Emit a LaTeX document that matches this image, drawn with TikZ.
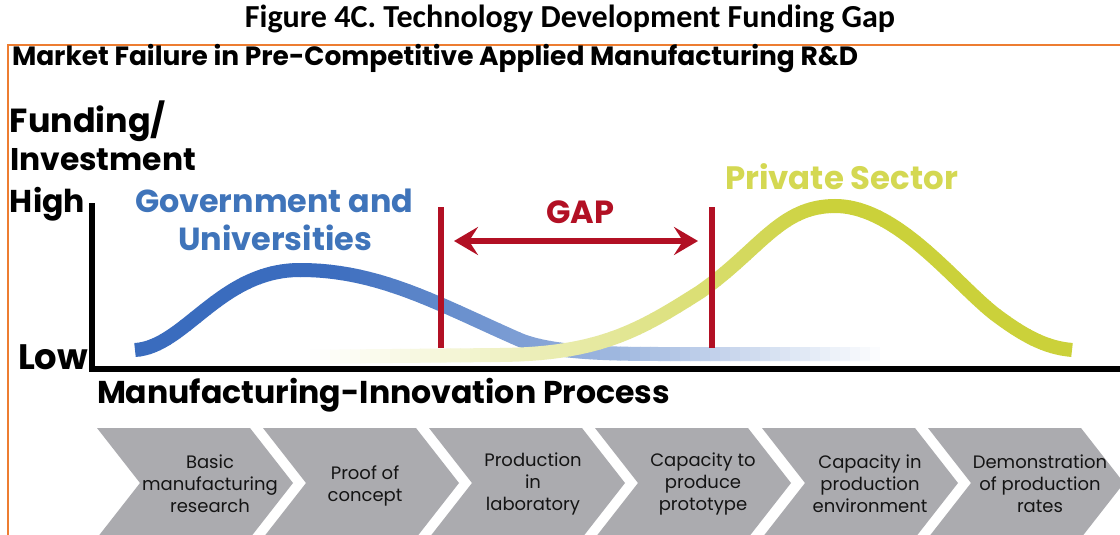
\documentclass[tikz,border=0pt]{standalone}
\usepackage{fontspec}
\usepackage{graphicx}
\setmainfont{Poppins}
\newfontfamily\calib{Carlito}
\usetikzlibrary{arrows.meta}
\definecolor{orng}{RGB}{237,125,49}
\definecolor{govblue}{RGB}{58,108,190}
\definecolor{govtxt}{RGB}{63,116,186}
\definecolor{privyel}{RGB}{203,209,58}
\definecolor{privtxt}{RGB}{212,216,82}
\definecolor{gapred}{RGB}{178,16,36}
\definecolor{chev}{RGB}{171,171,175}
\newcommand\fitw[2]{\resizebox{#1pt}{!}{#2}}
\tikzset{
  lbl/.style={inner sep=0pt, outer sep=0pt, anchor=base west, font=\bfseries},
  curve/.style={line width=14pt, line cap=butt},
  redbar/.style={draw=gapred, line width=6.5pt},
  axisline/.style={line width=6pt, draw=black},
  chevron/.style={fill=chev},
  chevtxt/.style={align=center, font=\fontsize{18}{22}\selectfont, text=black!92, inner sep=0pt},
  gaptip/.tip={Stealth[length=24pt, width=28pt, inset=9pt]}
}
\def\bluepath{(135,350) .. controls (185,347) and (220,270) .. (300,270) .. controls (380,270) and (440,305) .. (520,340) .. controls (550,352) and (600,354) .. (660,354) -- (885,354)}
\def\yelpath{(285,357) -- (500,355) .. controls (600,354) and (640,330) .. (700,292) .. controls (760,250) and (780,206) .. (835,206) .. controls (900,206) and (960,290) .. (1000,318) .. controls (1030,340) and (1050,348) .. (1072,350)}
\begin{document}
\begin{tikzpicture}[x=1pt,y=-1pt]
\useasboundingbox (0,0) rectangle (1120,535);
\clip (0,0) rectangle (1120,535);
\fill[white] (0,0) rectangle (1120,535);

% title and frame
\node[inner sep=0pt, anchor=base] (title) at (570,28) {\fitw{650}{\calib\bfseries Figure 4C. Technology Development Funding Gap}};
\coordinate (fr1) at (1120,45);
\coordinate (fr2) at (8,45);
\coordinate (fr3) at (8,535);
\draw[orng, line width=2pt] (fr1) -- (fr2) -- (fr3);

\node[lbl] (mf) at (12,66) {\fitw{846}{\bfseries Market Failure in Pre-Competitive Applied Manufacturing R\&D}};
\node[lbl] (fund) at (10,132) {\fitw{156}{\bfseries Funding/}};
\node[lbl] (inv) at (10,170) {\fitw{186}{\bfseries Investment}};
\node[lbl] (high) at (10,212) {\fitw{75}{\bfseries High}};
\node[lbl] (low) at (18,369) {\fitw{70}{\bfseries Low}};
\node[lbl] (proc) at (97,403) {\fitw{573}{\bfseries Manufacturing-Innovation Process}};

% curves (drawn in strips to fade)
\foreach \i in {0,...,75}{
  \pgfmathsetmacro\xa{130+10*\i}
  \pgfmathtruncatemacro\p{max(0,min(100,100*(1-(\xa+5-330)/560)))}
  \begin{scope}
    \clip (\xa,250) rectangle (\xa+10.6,375);
    \draw[curve, govblue!\p!white] \bluepath;
  \end{scope}
}
\foreach \i in {0,...,80}{
  \pgfmathsetmacro\xa{280+10*\i}
  \pgfmathtruncatemacro\q{100*pow(max(0.001,min(1,(\xa+5-290)/530)),1.3)}
  \begin{scope}
    \clip (\xa,185) rectangle (\xa+10.6,375);
    \draw[curve, privyel!\q!white] \yelpath;
  \end{scope}
}

% axes
\coordinate (ytop) at (92,203);
\coordinate (orig) at (92,369);
\coordinate (xend) at (1120,369);
\draw[axisline] (ytop) -- (92,372);
\draw[axisline] (89,369) -- (xend);

% gap bars and arrow
\coordinate (r1t) at (441,207);
\coordinate (r1b) at (441,348);
\coordinate (r2t) at (712,207);
\coordinate (r2b) at (712,348);
\draw[redbar] (r1t) -- (r1b);
\draw[redbar] (r2t) -- (r2b);
\coordinate (a1) at (454,241);
\coordinate (a2) at (698,241);
\draw[gapred, line width=6pt, gaptip-gaptip] (a1) -- (a2);
\node[lbl, text=gapred] (gap) at (546,223) {\fitw{68}{\bfseries GAP}};

\node[lbl, text=govtxt] (gov1) at (135,212) {\fitw{278}{\bfseries Government and}};
\node[lbl, text=govtxt] (gov2) at (178,250) {\fitw{194}{\bfseries Universities}};
\node[lbl, text=privtxt] (priv) at (725,189) {\fitw{233}{\bfseries Private Sector}};

% process chevrons
\foreach \L in {97,263,429,595,762,928}{
  \fill[chevron] (\L,428) -- ++(153,0) -- ++(43,55) -- ++(-43,55) -- ++(-153,0) -- ++(43,-55) -- cycle;
}
\node[chevtxt] (s1) at (210,484) {Basic\\manufacturing\\research};
\node[chevtxt] (s2) at (365,486) {Proof of\\concept};
\node[chevtxt] (s3) at (533,484) {Production\\in\\laboratory};
\node[chevtxt] (s4) at (703,484) {Capacity to\\produce\\prototype};
\node[chevtxt] (s5) at (870,484) {Capacity in\\production\\environment};
\node[chevtxt] (s6) at (1040,484) {Demonstration\\of production\\rates};
\end{tikzpicture}
\end{document}
